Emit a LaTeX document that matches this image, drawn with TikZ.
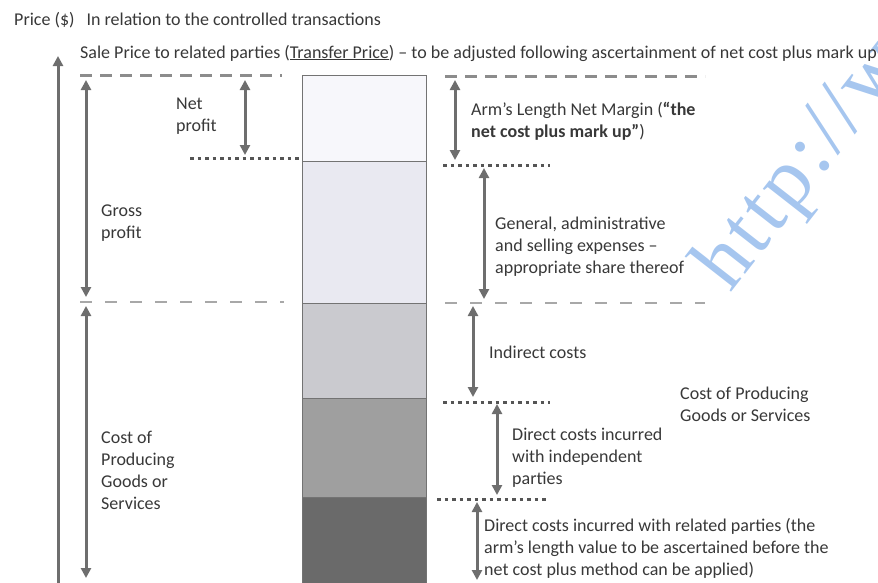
\documentclass[tikz,border=0pt]{standalone}
\usepackage{fontspec}
\setmainfont{Carlito}
\newfontfamily\wmfont[LetterSpace=5]{Liberation Serif}
\usetikzlibrary{arrows.meta}

\definecolor{textgray}{HTML}{383838}
\definecolor{arrowgray}{HTML}{6E6E6E}
\definecolor{dashgray}{HTML}{8C8C8C}
\definecolor{lightdash}{HTML}{A8A8A8}
\definecolor{dotgray}{HTML}{555555}
\definecolor{barA}{HTML}{F7F7FB}
\definecolor{barB}{HTML}{E9E9F1}
\definecolor{barC}{HTML}{CACACF}
\definecolor{barD}{HTML}{9F9F9F}
\definecolor{barE}{HTML}{6A6A6A}
\definecolor{wmblue}{HTML}{A6C6EF}

\begin{document}
\begin{tikzpicture}[x=1pt,y=-1pt,
  % multi-line labels are placed by the baseline of their last line
  lbl/.style={anchor=base west, inner sep=0pt, align=left, text=textgray,
    font=\fontsize{18}{21.7}\selectfont},
  tipshape/.tip={Triangle[length=10pt,width=10pt]},
  dim/.style={draw=arrowgray, line width=3pt, tipshape-tipshape},
  uparrow/.style={draw=arrowgray, line width=3pt, -tipshape},
  bigdash/.style={draw=dashgray, line width=3pt, dash pattern=on 12pt off 8pt},
  thindash/.style={draw=lightdash, line width=2pt, dash pattern=on 12pt off 13pt},
  dotline/.style={draw=dotgray, line width=3pt, dash pattern=on 3.5pt off 4pt},
  seg/.style={draw=black!55, line width=0.6pt}
]
\useasboundingbox (0,0) rectangle (878,582);
\clip (0,0) rectangle (878,582);

% watermark
\node[rotate=52, anchor=base west, inner sep=0pt, text=wmblue,
  font=\wmfont\fontsize{84}{84}\selectfont] (wm) at (730,294) {http://www};

% headings
\node[lbl] (head) at (14,25) {Price (\$)\hspace{12pt}In relation to the controlled transactions};
\node[lbl] (sale) at (80,58) {Sale Price to related parties (\underline{Transfer Price}) -- to be adjusted following ascertainment of net cost plus mark up};

% stacked bar
\filldraw[seg, fill=barE] (302,497) rectangle (426,590);
\filldraw[seg, fill=barD] (302,398) rectangle (426,497);
\filldraw[seg, fill=barC] (302,303) rectangle (426,398);
\filldraw[seg, fill=barB] (302,161) rectangle (426,303);
\filldraw[seg, fill=barA] (302,75) rectangle (426,161);

% level lines
\draw[bigdash] (80,75) -- (282,75);
\draw[bigdash] (445,76) -- (705,76);
\draw[thindash] (80,302) -- (284,302);
\draw[thindash] (445,303) -- (705,303);
\draw[dotline] (190,158) -- (299,158);
\draw[dotline] (443,165) -- (550,165);
\draw[dotline] (443,402) -- (550,402);
\draw[dotline] (437,499) -- (546,499);

% arrow end points
\coordinate (priceB) at (58,600);
\coordinate (priceT) at (58,56);
\coordinate (grossT) at (86,80);
\coordinate (grossB) at (86,297);
\coordinate (costT) at (86,306);
\coordinate (costB) at (86,578);
\coordinate (netT) at (245,80);
\coordinate (netB) at (245,155);
\coordinate (armT) at (455,80);
\coordinate (armB) at (455,160);
\coordinate (genT) at (484,168);
\coordinate (genB) at (484,299);
\coordinate (indT) at (473,306);
\coordinate (indB) at (473,397);
\coordinate (dirT) at (497,404);
\coordinate (dirB) at (497,495);
\coordinate (relT) at (477,502);
\coordinate (relB) at (477,580);

\draw[uparrow] (priceB) -- (priceT);
\draw[dim] (grossT) -- (grossB);
\draw[dim] (costT) -- (costB);
\draw[dim] (netT) -- (netB);
\draw[dim] (armT) -- (armB);
\draw[dim] (genT) -- (genB);
\draw[dim] (indT) -- (indB);
\draw[dim] (dirT) -- (dirB);
\draw[dim] (relT) -- (relB);

% labels
\node[lbl] (net) at (176,131) {Net\\profit};
\node[lbl] (gross) at (101,238) {Gross\\profit};
\node[lbl] (costL) at (101,509) {Cost of\\Producing\\Goods or\\Services};
\node[lbl] (arm) at (471,137) {Arm’s Length Net Margin (\textbf{“the}\\\textbf{net cost plus mark up”})};
\node[lbl] (gen) at (495,273) {General, administrative\\and selling expenses --\\appropriate share thereof};
\node[lbl] (ind) at (489,358) {Indirect costs};
\node[lbl] (costR) at (680,421) {Cost of Producing\\Goods or Services};
\node[lbl] (dir) at (512,484) {Direct costs incurred\\with independent\\parties};
\node[lbl] (rel) at (484,575) {Direct costs incurred with related parties (the\\arm’s length value to be ascertained before the\\net cost plus method can be applied)};
\end{tikzpicture}
\end{document}
